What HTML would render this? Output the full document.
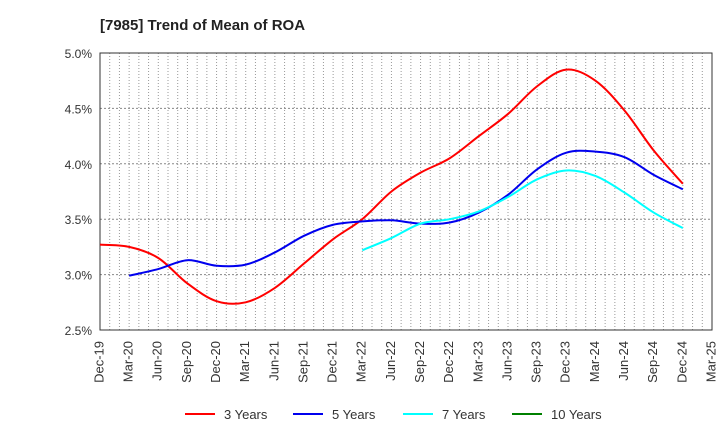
<!DOCTYPE html>
<html><head><meta charset="utf-8"><style>
body{margin:0;background:#fff;font-family:"Liberation Sans",sans-serif}
</style></head><body>
<svg width="720" height="440" xmlns="http://www.w3.org/2000/svg" font-family="Liberation Sans, sans-serif" id="chart">
<text x="100" y="30" font-size="15" font-weight="bold" fill="#222">[7985]  Trend of Mean of ROA</text>
<g id="grid"></g><g id="axes"></g><g id="lines"></g><g id="legend"></g>
</svg>
<script>
const xLabels=["Dec-19","Mar-20","Jun-20","Sep-20","Dec-20","Mar-21","Jun-21","Sep-21","Dec-21","Mar-22","Jun-22","Sep-22","Dec-22","Mar-23","Jun-23","Sep-23","Dec-23","Mar-24","Jun-24","Sep-24","Dec-24","Mar-25"];
const yTicks=[2.5,3.0,3.5,4.0,4.5,5.0];
const s3=[3.27,3.25,3.15,2.92,2.76,2.75,2.88,3.10,3.32,3.50,3.75,3.92,4.05,4.25,4.45,4.70,4.85,4.75,4.48,4.12,3.82];
const s5=[null,2.99,3.05,3.13,3.08,3.09,3.20,3.35,3.45,3.48,3.49,3.46,3.47,3.56,3.72,3.95,4.10,4.11,4.06,3.90,3.77];
const s7=[null,null,null,null,null,null,null,null,null,3.22,3.33,3.46,3.50,3.57,3.70,3.86,3.94,3.89,3.74,3.56,3.42];
const s10=[];
const L=100,R=712,T=53,B=330,ns="http://www.w3.org/2000/svg";
const x=i=>L+i*(R-L)/(xLabels.length-1);
const y=v=>B-(v-2.5)/2.5*(B-T);
function mk(t,a,p){const e=document.createElementNS(ns,t);for(const k in a)e.setAttribute(k,a[k]);p.appendChild(e);return e;}
const g=document.getElementById('grid'),ax=document.getElementById('axes'),ln=document.getElementById('lines'),lg=document.getElementById('legend');
for(let m=1;m<(xLabels.length-1)*3;m++){const xx=L+m*(R-L)/((xLabels.length-1)*3);
const e=mk('line',{x1:xx,x2:xx,y1:T,y2:B,stroke:'#999','stroke-dasharray':'1,2','stroke-width':1},g);

}
yTicks.forEach(v=>{const e=mk('line',{x1:L,x2:R,y1:y(v),y2:y(v),stroke:'#888','stroke-dasharray':'2,2','stroke-width':1},g);


const t=mk('text',{x:L-8,y:y(v)+5,'text-anchor':'end','font-size':12,fill:'#333'},ax);t.textContent=v.toFixed(1)+'%';

});
const fr=mk('rect',{x:L,y:T,width:R-L,height:B-T,fill:'none',stroke:'#333','stroke-width':1},ax);


xLabels.forEach((lb,i)=>{const t=mk('text',{transform:`translate(${x(i)},${B+11}) rotate(-90)`,'text-anchor':'end','dominant-baseline':'middle','font-size':13,fill:'#333'},ax);t.textContent=lb;

});
function path(d){const p=[];d.forEach((v,i)=>{if(v!=null)p.push([x(i),y(v)]);});if(p.length<2)return'';
let s=`M${p[0][0]},${p[0][1]}`;for(let i=0;i<p.length-1;i++){const p0=p[i-1]||p[i],p1=p[i],p2=p[i+1],p3=p[i+2]||p2;
s+=` C${p1[0]+(p2[0]-p0[0])/6},${p1[1]+(p2[1]-p0[1])/6} ${p2[0]-(p3[0]-p1[0])/6},${p2[1]-(p3[1]-p1[1])/6} ${p2[0]},${p2[1]}`;}return s;}
const series=[[s3,'#ff0000','3 Years','line-3-years'],[s5,'#0000ee','5 Years','line-5-years'],[s7,'#00ffff','7 Years','line-7-years'],[s10,'#008000','10 Years','line-10-years']];
const lx=[185,293,403,512];
series.forEach((s,k)=>{const d=path(s[0]);if(d){const e=mk('path',{d:d,fill:'none',stroke:s[1],'stroke-width':2},ln);

}
const l=mk('line',{x1:lx[k],x2:lx[k]+30,y1:414,y2:414,stroke:s[1],'stroke-width':2},lg);


const t=mk('text',{x:lx[k]+39,y:419,'font-size':13,fill:'#333'},lg);t.textContent=s[2];

});
</script>
</body></html>
